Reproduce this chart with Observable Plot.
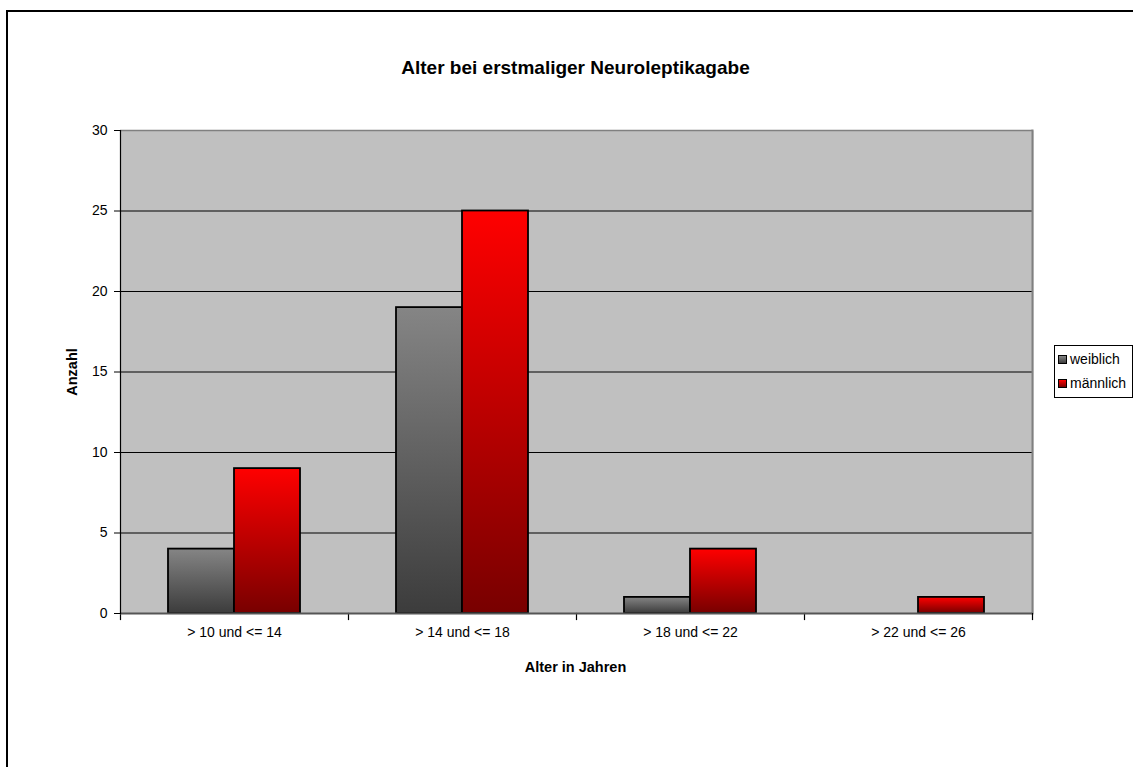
<!DOCTYPE html>
<html><head><meta charset="utf-8">
<script src="https://cdn.jsdelivr.net/npm/d3@7"></script>
<script src="https://cdn.jsdelivr.net/npm/@observablehq/plot@0.6"></script>
<style>
html,body{margin:0;padding:0;background:#fff;font-family:Arial,"Liberation Sans",sans-serif;color:#000;}
#wrap{position:relative;width:1133px;height:767px;overflow:hidden;background:#fff;}
#btop{position:absolute;left:6px;top:10px;width:1127px;height:2px;background:#000;}
#bleft{position:absolute;left:6px;top:10px;width:2px;height:757px;background:#000;}
#chart{position:absolute;left:0;top:0;width:1133px;height:767px;overflow:hidden;}
.title{position:absolute;left:118px;width:915px;top:56px;text-align:center;font-weight:bold;font-size:19px;line-height:24px;}
.xlabel{position:absolute;left:118px;width:915px;top:658px;text-align:center;font-weight:bold;font-size:14.5px;line-height:18px;}
.ylabel{position:absolute;left:72px;top:372px;transform:translate(-50%,-50%) rotate(-90deg);font-weight:bold;font-size:14.5px;white-space:nowrap;}
.legend{position:absolute;left:1054px;top:345px;width:79px;height:53px;border:1px solid #000;box-sizing:border-box;font-size:14px;background:#fff;}
.row{position:absolute;left:3px;height:18px;line-height:18px;white-space:nowrap;}
.sw{display:inline-block;width:7px;height:7px;border:1px solid #000;vertical-align:middle;margin-right:3px;position:relative;top:-1px;}
</style></head>
<body>
<div id="wrap">
  <div id="chart"></div>
  <div id="btop"></div>
  <div id="bleft"></div>
  <div class="title">Alter bei erstmaliger Neuroleptikagabe</div>
  <div class="xlabel">Alter in Jahren</div>
  <div class="ylabel">Anzahl</div>
  <div class="legend" id="legend"></div>
</div>
<script>
const categories = ["> 10 und <= 14", "> 14 und <= 18", "> 18 und <= 22", "> 22 und <= 26"];
const seriesNames = ["weiblich", "männlich"];
const weiblich = [4, 19, 1, 0];
const maennlich = [9, 25, 4, 1];
const yTicks = [0, 5, 10, 15, 20, 25, 30];
const gridValues = [5, 10, 15, 20, 25];

const seriesValues = [weiblich, maennlich];
const rows = [];
categories.forEach((c, i) => seriesNames.forEach((s, j) => rows.push({cat: c, series: s, value: seriesValues[j][i]})));

const W = 1133, H = 767, mL = 118, mR = 100, mT = 130, mB = 154;
const plotH = H - mT - mB;

const svg = Plot.plot({
  width: W, height: H,
  marginLeft: mL, marginRight: mR, marginTop: mT, marginBottom: mB,
  style: {fontFamily: "Arial, 'Liberation Sans', sans-serif", fontSize: "14px", background: "transparent", color: "#000", overflow: "hidden"},
  fx: {domain: categories, padding: 0, label: null},
  x: {domain: seriesNames, paddingInner: 0, paddingOuter: 0.72, axis: null},
  y: {domain: [0, 30]},
  color: {domain: seriesNames, range: ["url(#gradW)", "url(#gradM)"]},
  marks: [
    Plot.frame({fill: "#c0c0c0", stroke: null, insetRight: -1}),
    Plot.ruleY(gridValues, {stroke: "#000", strokeWidth: 1}),
    Plot.ruleY([30], {stroke: "#808080", strokeWidth: 1.5}),
    Plot.frame({anchor: "right", stroke: "#808080", strokeWidth: 2, facetAnchor: "right"}),
    Plot.frame({anchor: "left", stroke: "#000", strokeWidth: 1.2, insetTop: plotH, insetBottom: -6}),
    Plot.frame({anchor: "right", stroke: "#000", strokeWidth: 1.2, insetTop: plotH, insetBottom: -6, facetAnchor: "right"}),
    Plot.barY(rows, {filter: d => d.value > 0, fx: "cat", x: "series", y: "value", fill: "series", stroke: "#000", strokeWidth: 1.8}),
    Plot.ruleY([0], {stroke: "#555", strokeWidth: 2}),
    Plot.frame({anchor: "left", stroke: "#000", strokeWidth: 1.2, facetAnchor: "left"}),
    Plot.axisY({ticks: yTicks, tickSize: 6, tickPadding: 7, label: null, tickFormat: d => d}),
    Plot.axisFx({anchor: "bottom", tickSize: 0, tickPadding: 14, label: null})
  ]
});

const defs = d3.select(svg).insert("defs", ":first-child");
function grad(id, top, bottom) {
  const g = defs.append("linearGradient").attr("id", id).attr("x1", 0).attr("y1", 0).attr("x2", 0).attr("y2", 1);
  g.append("stop").attr("offset", "0%").attr("stop-color", top);
  g.append("stop").attr("offset", "100%").attr("stop-color", bottom);
}
grad("gradW", "#858585", "#3c3c3c");
grad("gradM", "#ff0000", "#780000");
document.getElementById("chart").appendChild(svg);

const legendColors = [["#858585", "#3c3c3c"], ["#ff0000", "#780000"]];
const legend = document.getElementById("legend");
seriesNames.forEach((s, i) => {
  const r = document.createElement("div");
  r.className = "row";
  r.style.top = (4 + i * 24) + "px";
  r.innerHTML = `<span class="sw" style="background:linear-gradient(${legendColors[i][0]},${legendColors[i][1]})"></span>${s}`;
  legend.appendChild(r);
});
</script>
</body></html>
